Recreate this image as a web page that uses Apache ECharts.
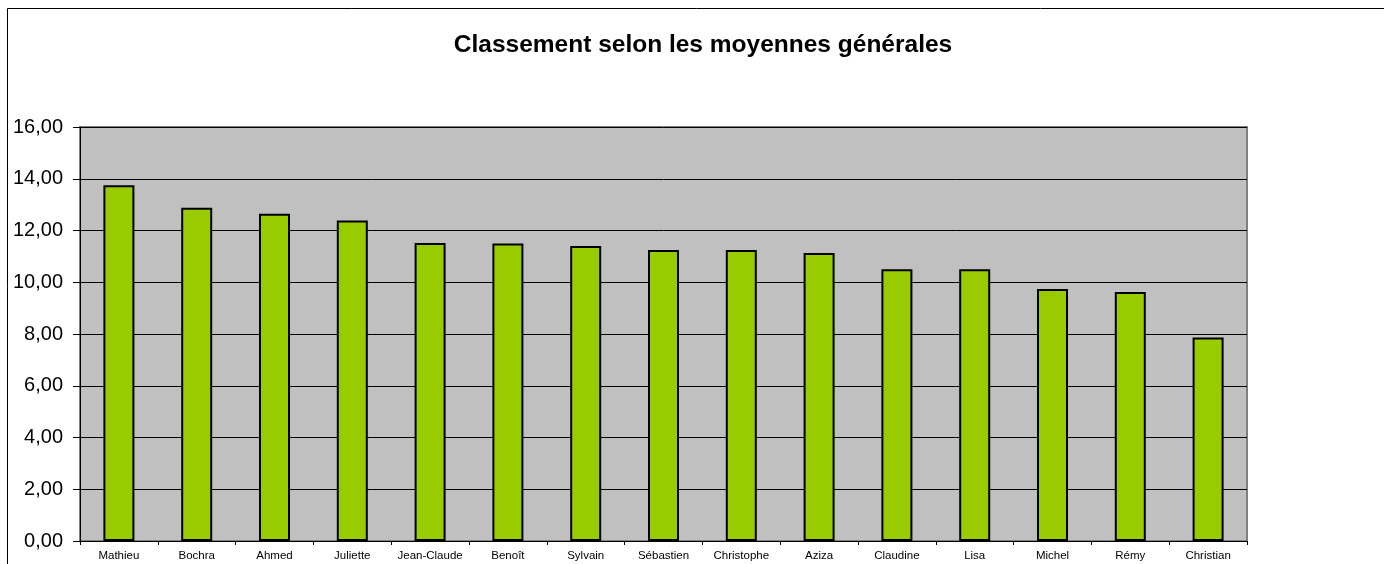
<!DOCTYPE html>
<html>
<head>
<meta charset="utf-8">
<script src="https://cdn.jsdelivr.net/npm/echarts@6/dist/echarts.min.js"></script>
<style>
html,body{margin:0;padding:0;background:#fff;}
#chart{width:1384px;height:564px;}
</style>
</head>
<body>
<div id="chart"></div>
<script>
const titleText = 'Classement selon les moyennes générales';
const categories = ['Mathieu','Bochra','Ahmed','Juliette','Jean-Claude','Benoît','Sylvain','Sébastien','Christophe','Aziza','Claudine','Lisa','Michel','Rémy','Christian'];
const moyennes = [13.75, 12.88, 12.65, 12.39, 11.52, 11.50, 11.40, 11.25, 11.25, 11.13, 10.50, 10.50, 9.74, 9.62, 7.86];
const yMin = 0, yMax = 16, yStep = 2;

const chart = echarts.init(document.getElementById('chart'), null, {renderer: 'canvas'});
chart.setOption({
  animation: false,
  backgroundColor: '#ffffff',
  textStyle: {fontFamily: 'Liberation Sans, Arial, sans-serif'},
  title: {
    text: titleText,
    left: 698, top: 28, textAlign: 'center',
    textStyle: {fontSize: 24.5, fontWeight: 'bold', color: '#000', fontFamily: 'Liberation Sans, Arial, sans-serif'}
  },
  graphic: [{
    type: 'rect', z: 100, silent: true,
    shape: {x: 7.5, y: 8.5, width: 1500, height: 700},
    style: {fill: 'none', stroke: '#000', lineWidth: 1}
  }],
  grid: {
    left: 80, right: 137, top: 127, bottom: 23,
    show: true, backgroundColor: '#C0C0C0', borderColor: '#808080', borderWidth: 2
  },
  xAxis: {
    type: 'category', data: categories,
    axisLine: {show: true, lineStyle: {color: '#000', width: 1}},
    axisTick: {show: true, alignWithLabel: false, length: 4, lineStyle: {color: '#000'}},
    axisLabel: {interval: 0, margin: 9, fontSize: 11.5, color: '#000', fontFamily: 'Liberation Sans, Arial, sans-serif'}
  },
  yAxis: {
    type: 'value', min: yMin, max: yMax, interval: yStep,
    axisLine: {show: true, lineStyle: {color: '#000', width: 1}},
    axisTick: {show: true, length: 7, lineStyle: {color: '#000'}},
    splitLine: {show: true, lineStyle: {color: '#000', width: 1}},
    axisLabel: {margin: 17, fontSize: 20, color: '#000', fontFamily: 'Liberation Sans, Arial, sans-serif',
      formatter: v => v.toFixed(2).replace('.', ',')}
  },
  series: [{
    type: 'bar', data: moyennes, barWidth: 31,
    itemStyle: {color: '#99CC00', borderColor: '#000', borderWidth: 2}
  }]
});
</script>
</body>
</html>
